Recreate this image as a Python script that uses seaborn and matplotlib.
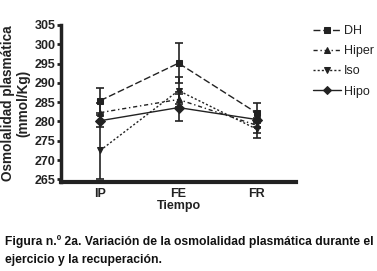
import matplotlib
matplotlib.use("Agg")
import matplotlib.pyplot as plt
import seaborn as sns
import pandas as pd
import numpy as np

times = ["IP", "FE", "FR"]
series = ["DH", "Hiper", "Iso", "Hipo"]
dh = [285.4, 295.1, 282.2]
hiper = [282.3, 285.7, 279.0]
iso = [272.5, 288.0, 278.0]
hipo = [280.2, 283.6, 280.5]
dh_err = [3.2, 5.1, 2.6]
hiper_err = [2.5, 2.0, 2.0]
iso_err = [7.5, 3.5, 2.2]
hipo_err = [1.5, 3.5, 2.0]
yticks = [265, 270, 275, 280, 285, 290, 295, 300, 305]

values = {"DH": dh, "Hiper": hiper, "Iso": iso, "Hipo": hipo}
errors = {"DH": dh_err, "Hiper": hiper_err, "Iso": iso_err, "Hipo": hipo_err}

rows = []
for s in series:
    for i, t in enumerate(times):
        rows.append({"Tiempo": i, "t": t, "Grupo": s, "val": values[s][i]})
df = pd.DataFrame(rows)

sns.set_style("ticks")
plt.rcParams['font.family'] = ['Liberation Sans', 'DejaVu Sans']

fig = plt.figure(figsize=(3.77, 2.71), dpi=100)
ax = fig.add_axes([0.162, 0.328, 0.623, 0.58])

dashes = {"DH": (5, 2), "Hiper": (3, 2, 1, 2), "Iso": (1.5, 1.5), "Hipo": ""}
markers = {"DH": "s", "Hiper": "^", "Iso": "v", "Hipo": "D"}
palette = {s: "#222222" for s in series}

# error bars
for s in series:
    ax.errorbar(range(3), values[s], yerr=errors[s], fmt="none",
                ecolor="#222222", elinewidth=1.2, capsize=3, capthick=1.2, zorder=2)

sns.lineplot(data=df, x="Tiempo", y="val", hue="Grupo", style="Grupo",
             hue_order=series, style_order=series, palette=palette,
             dashes=dashes, markers=markers, markersize=5, linewidth=1.0,
             markeredgecolor="#222222", ax=ax, zorder=3)

ax.set_xlim(-0.5, 2.5)
ax.set_ylim(264.3, 305)
ax.set_yticks(yticks)
ax.set_yticklabels([str(v) for v in yticks], fontsize=9, fontweight="bold", color="#222222")
ax.set_xticks(range(3))
ax.set_xticklabels(times, fontsize=9, fontweight="bold", color="#222222")
ax.tick_params(axis="x", length=0, pad=4)
ax.tick_params(axis="y", length=3, width=2, pad=1, color="#222222")
sns.despine(ax=ax)
ax.spines["left"].set_linewidth(2.5)
ax.spines["bottom"].set_linewidth(3)
ax.spines["left"].set_color("#222222")
ax.spines["bottom"].set_color("#222222")

ax.set_xlabel("Tiempo", fontsize=9, fontweight="bold", color="#222222", labelpad=0)
ax.set_ylabel("Osmolalidad plasmática\n(mmol/Kg)", fontsize=9.8, fontweight="bold",
              color="#222222", labelpad=3, linespacing=1.1)

leg = ax.legend(loc="upper left", bbox_to_anchor=(1.05, 1.03), frameon=False,
                fontsize=9, handlelength=2.3, handletextpad=0.2,
                labelspacing=0.65, borderaxespad=0, markerscale=0.8)
for t in leg.get_texts():
    t.set_color("#222222")

cap_font = ['Liberation Sans', 'DejaVu Sans']
fig.text(0.013, 0.108, "Figura n.º 2a. Variación de la osmolalidad plasmática durante el",
         fontsize=8.7, fontweight="bold", family=cap_font, color="#111111", va="center")
fig.text(0.013, 0.04, "ejercicio y la recuperación.",
         fontsize=8.7, fontweight="bold", family=cap_font, color="#111111", va="center")

fig.savefig("out.png", dpi=100)
